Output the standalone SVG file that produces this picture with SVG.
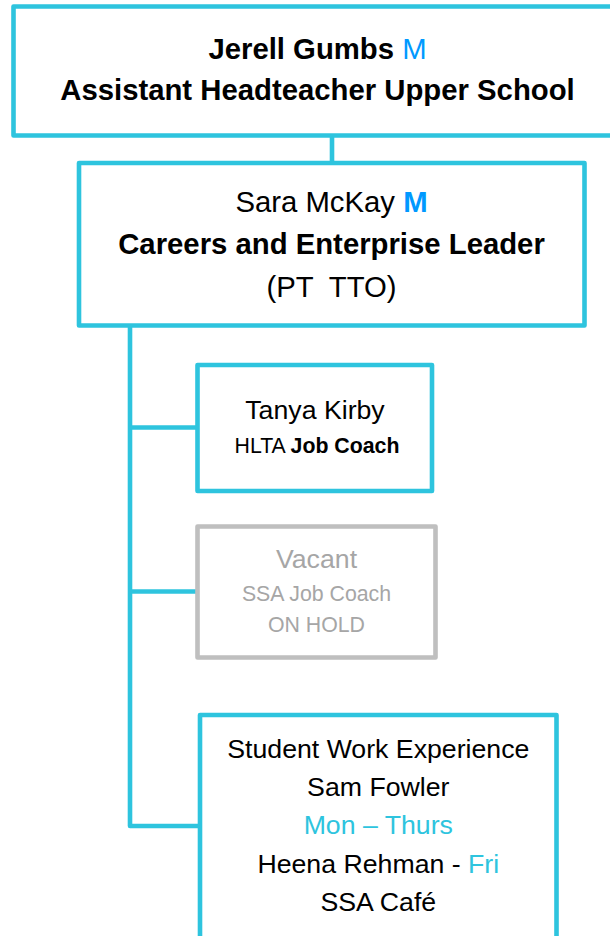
<svg xmlns="http://www.w3.org/2000/svg" width="610" height="936" viewBox="0 0 610 936">
<style>
text{font-family:"Liberation Sans",Arial,sans-serif;text-anchor:middle;fill:#000}
.box{fill:#fff;stroke:#2EC4DE;stroke-width:4.6;stroke-linejoin:round}
.gbox{fill:#fff;stroke:#BFBFBF;stroke-width:4.6;stroke-linejoin:round}
.conn{fill:none;stroke:#2EC4DE;stroke-width:4.6;stroke-linejoin:round}
.b{font-weight:bold}
.n{font-weight:normal}
.blue{fill:#0099FF}
.cyan{fill:#2EC4DE}
.grey{fill:#A6A6A6}
.l{font-size:29.3px}
.m{font-size:26.7px}
.s{font-size:21.3px}
</style>
<g id="connectors">
<line class="conn" x1="332" y1="137" x2="332" y2="164"/>
<path class="conn" d="M130 327 V826 H200"/>
<line class="conn" x1="130" y1="427.5" x2="197.5" y2="427.5"/>
<line class="conn" x1="130" y1="591.5" x2="197.5" y2="591.5"/>
</g>
<g id="node-jerell">
<rect class="box" x="13.5" y="6.5" width="608" height="129"/>
<text class="l b" x="317.5" y="58.5">Jerell Gumbs <tspan class="n blue">M</tspan></text>
<text class="l b" x="317.5" y="100">Assistant Headteacher Upper School</text>
</g>
<g id="node-sara">
<rect class="box" x="79" y="163" width="505.5" height="162.5"/>
<text class="l" x="331.5" y="211.5">Sara McKay <tspan class="b blue">M</tspan></text>
<text class="l b" x="331.5" y="253.5">Careers and Enterprise Leader</text>
<text class="l" x="331.5" y="296.5" xml:space="preserve">(PT  TTO)</text>
</g>
<g id="node-tanya">
<rect class="box" x="197.5" y="365" width="234.5" height="126"/>
<text class="m" x="315" y="419">Tanya Kirby</text>
<text class="s" x="317" y="452.5">HLTA <tspan class="b">Job Coach</tspan></text>
</g>
<g id="node-vacant">
<rect class="gbox" x="197.5" y="526.5" width="238" height="131"/>
<text class="m grey" x="316.5" y="567.5">Vacant</text>
<text class="s grey" x="316.5" y="601">SSA Job Coach</text>
<text class="s grey" x="316.5" y="631.5">ON HOLD</text>
</g>
<g id="node-work-experience">
<rect class="box" x="200" y="715" width="356.5" height="260"/>
<text class="m" x="378.3" y="758.3">Student Work Experience</text>
<text class="m" x="378.3" y="796">Sam Fowler</text>
<text class="m cyan" x="378.3" y="834">Mon – Thurs</text>
<text class="m" x="378.3" y="872.5">Heena Rehman - <tspan class="cyan">Fri</tspan></text>
<text class="m" x="378.3" y="911">SSA Café</text>
</g>
</svg>
